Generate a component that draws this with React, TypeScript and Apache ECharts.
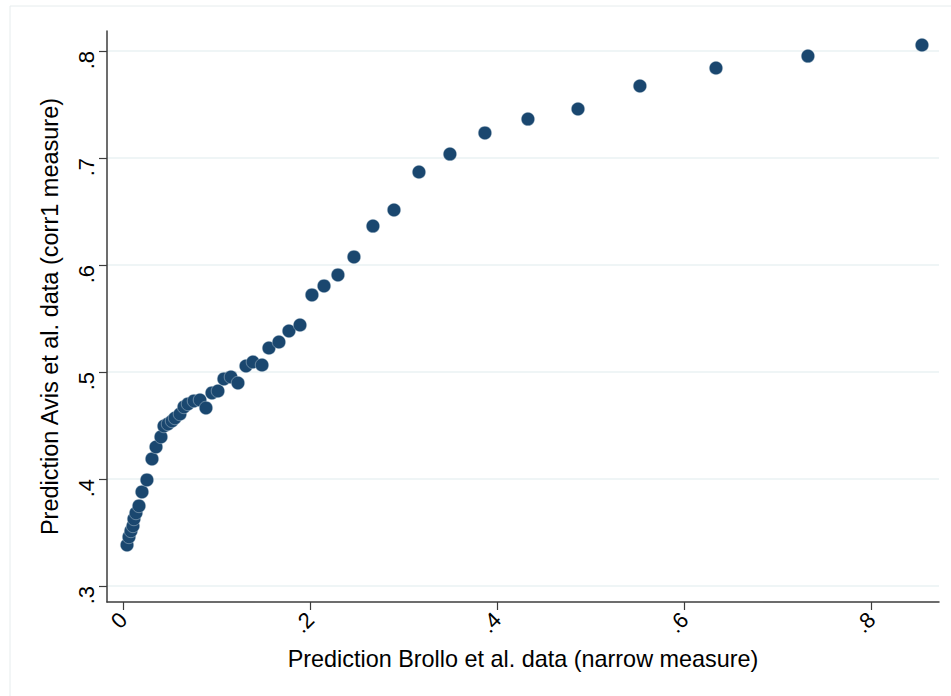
import React, { useEffect, useRef } from "react";
import * as echarts from "echarts";

const brollo = [
  0.004, 0.0061, 0.0082, 0.0104, 0.0114, 0.0136, 0.0168, 0.02, 0.0253, 0.0307,
  0.035, 0.0403, 0.0435, 0.0478, 0.0521, 0.0553, 0.0606, 0.0649, 0.0692, 0.0756,
  0.082, 0.0884, 0.0948, 0.1012, 0.1076, 0.1151, 0.1226, 0.1312, 0.1386, 0.1483,
  0.1557, 0.1664, 0.1771, 0.1889, 0.2017, 0.2146, 0.2295, 0.2466, 0.2669, 0.2894,
  0.3161, 0.3492, 0.3866, 0.4326, 0.4861, 0.5523, 0.6336, 0.7319, 0.8538,
];
const avis = [
  0.3383, 0.3458, 0.3514, 0.3561, 0.3626, 0.3682, 0.3748, 0.3879, 0.3991, 0.4187,
  0.4299, 0.4393, 0.4495, 0.4514, 0.4542, 0.457, 0.4607, 0.4673, 0.4701, 0.4729,
  0.4738, 0.4664, 0.4804, 0.4822, 0.4935, 0.4953, 0.4897, 0.5056, 0.5093, 0.5065,
  0.5224, 0.528, 0.5383, 0.5439, 0.572, 0.5804, 0.5907, 0.6075, 0.6364, 0.6514,
  0.6869, 0.7037, 0.7234, 0.7364, 0.7458, 0.7673, 0.7841, 0.7953, 0.8056,
];
const xTicks = [0, 0.2, 0.4, 0.6, 0.8];
const xTickLabels = ["0", ".2", ".4", ".6", ".8"];
const yTicks = [0.3, 0.4, 0.5, 0.6, 0.7, 0.8];
const yTickLabels = [".3", ".4", ".5", ".6", ".7", ".8"];
const xTitle = "Prediction Brollo et al. data (narrow measure)";
const yTitle = "Prediction Avis et al. data (corr1 measure)";

const FONT = "'Liberation Sans', Arial, Helvetica, sans-serif";
const AXIS_COLOR = "#3c3c3c";

function fmt(list: number[], labels: string[]) {
  return (v: number) => {
    const i = list.findIndex((t) => Math.abs(t - v) < 1e-6);
    return i >= 0 ? labels[i] : "";
  };
}

export default function App() {
  const ref = useRef<HTMLDivElement>(null);
  useEffect(() => {
    if (!ref.current) return;
    const chart = echarts.init(ref.current, null, { renderer: "svg" });
    chart.setOption({
      animation: false,
      backgroundColor: "#ffffff",
      graphic: [
        {
          type: "rect",
          shape: { x: 10, y: 6, width: 960, height: 720 },
          style: { fill: "none", stroke: "#e6eced", lineWidth: 1 },
          silent: true,
          z: -1,
        },
      ],
      grid: { left: 107, top: 31, right: 12, bottom: 94, containLabel: false },
      xAxis: {
        type: "value",
        min: -0.0174,
        max: 0.872,
        name: xTitle,
        nameLocation: "middle",
        nameGap: 45,
        nameTextStyle: { fontFamily: FONT, fontSize: 23.4, color: "#000" },
        axisLine: { show: true, onZero: false, lineStyle: { color: AXIS_COLOR, width: 1.5 } },
        axisTick: {
          show: true,
          length: 8,
          customValues: xTicks,
          lineStyle: { color: AXIS_COLOR, width: 1.2 },
        },
        axisLabel: {
          customValues: xTicks,
          formatter: fmt(xTicks, xTickLabels),
          rotate: 45,
          margin: 14,
          fontFamily: FONT,
          fontSize: 22,
          color: "#000",
        },
        splitLine: { show: false },
      },
      yAxis: {
        type: "value",
        min: 0.285,
        max: 0.8187,
        name: yTitle,
        nameLocation: "middle",
        nameGap: 45,
        nameRotate: 90,
        nameTextStyle: { fontFamily: FONT, fontSize: 23.5, color: "#000" },
        axisLine: { show: true, onZero: false, lineStyle: { color: AXIS_COLOR, width: 1.5 } },
        axisTick: {
          show: true,
          length: 8,
          customValues: yTicks,
          lineStyle: { color: AXIS_COLOR, width: 1.2 },
        },
        axisLabel: {
          customValues: yTicks,
          formatter: fmt(yTicks, yTickLabels),
          rotate: 90,
          align: "right",
          verticalAlign: "bottom",
          margin: 10,
          fontFamily: FONT,
          fontSize: 22,
          color: "#000",
        },
        splitLine: { show: true, lineStyle: { color: "#eaf2f3", width: 1.5 } },
      },
      series: [
        {
          type: "scatter",
          data: brollo.map((x, i) => [x, avis[i]]),
          symbol: "circle",
          symbolSize: 13.5,
          itemStyle: { color: "#1a476f", opacity: 1, borderColor: "#dfe8ee", borderWidth: 0.4 },
        },
      ],
    });
    return () => chart.dispose();
  }, []);
  return (
    <div
      ref={ref}
      style={{ position: "fixed", left: 0, top: 0, width: 951, height: 696 }}
    />
  );
}
